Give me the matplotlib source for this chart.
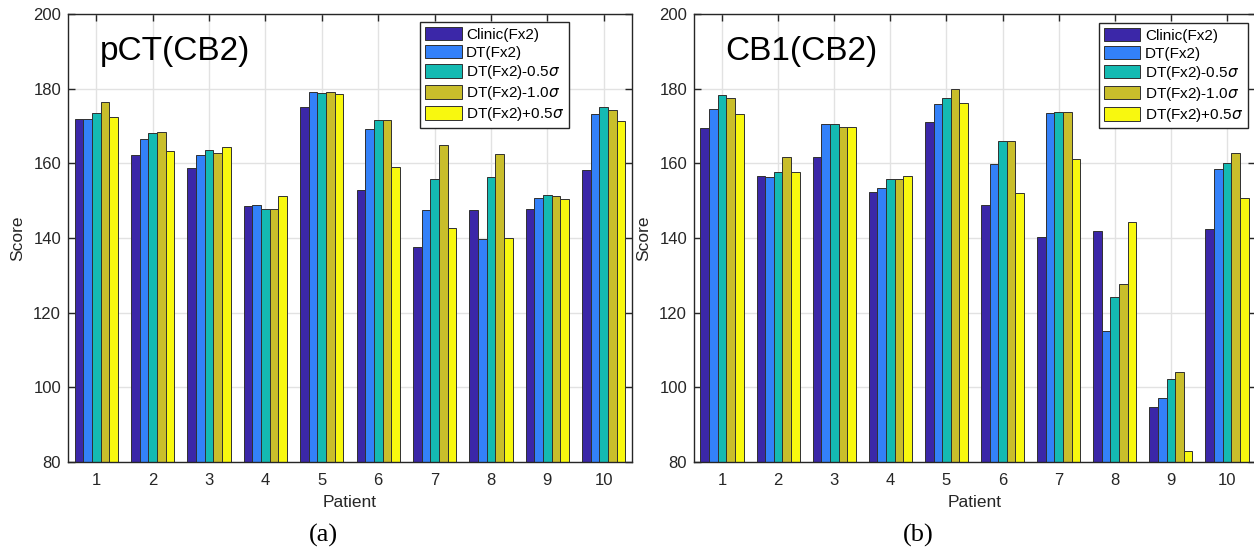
import numpy as np
import matplotlib
matplotlib.use("Agg")
import matplotlib.pyplot as plt

plt.rcParams['font.family'] = ['Liberation Sans', 'DejaVu Sans']
plt.rcParams['mathtext.fontset'] = 'dejavusans'

patients = [1, 2, 3, 4, 5, 6, 7, 8, 9, 10]
series_labels = ['Clinic(Fx2)', 'DT(Fx2)', r'DT(Fx2)-0.5$\sigma$', r'DT(Fx2)-1.0$\sigma$', r'DT(Fx2)+0.5$\sigma$']

# panel (a) pCT(CB2)
a_clinic = [171.9, 162.1, 158.8, 148.5, 175.2, 152.8, 137.6, 147.6, 147.8, 158.2]
a_dt     = [171.9, 166.4, 162.1, 148.8, 179.0, 169.1, 147.6, 139.8, 150.6, 173.3]
a_m05    = [173.4, 168.2, 163.7, 147.9, 178.8, 171.6, 155.7, 156.3, 151.6, 175.0]
a_m10    = [176.5, 168.5, 162.7, 147.9, 179.0, 171.6, 165.0, 162.5, 151.2, 174.3]
a_p05    = [172.3, 163.4, 164.5, 151.2, 178.5, 158.9, 142.7, 140.1, 150.5, 171.3]

# panel (b) CB1(CB2)
b_clinic = [169.5, 156.6, 161.6, 152.3, 171.2, 148.9, 140.3, 141.9, 94.6, 142.4]
b_dt     = [174.5, 156.3, 170.6, 153.5, 175.9, 159.7, 173.5, 115.0, 97.1, 158.4]
b_m05    = [178.3, 157.7, 170.6, 155.9, 177.4, 166.1, 173.8, 124.2, 102.1, 160.0]
b_m10    = [177.4, 161.6, 169.6, 155.9, 179.8, 166.1, 173.8, 127.6, 104.1, 162.9]
b_p05    = [173.1, 157.7, 169.6, 156.5, 176.2, 152.0, 161.2, 144.2, 83.0, 150.8]

colors = ['#3B27A8', '#3381F9', '#14BAB2', '#C9BE2B', '#F8F80F']
yticks = [80, 100, 120, 140, 160, 180, 200]

fig = plt.figure(figsize=(12.54, 5.5), dpi=100)
ax1 = fig.add_axes([68/1254, 1-462/550, 564/1254, 448/550])
ax2 = fig.add_axes([694/1254, 1-462/550, 561/1254, 448/550])

def draw(ax, data, title, legend_anchor):
    n = len(data)
    gw = n / (n + 1.5)
    bw = gw / n
    x = np.array(patients, dtype=float)
    for i, vals in enumerate(data):
        off = (i - (n - 1) / 2) * bw
        ax.bar(x + off, np.array(vals) - 80, bottom=80, width=bw, color=colors[i],
               edgecolor='#303030', linewidth=0.7, label=series_labels[i], zorder=3)
    ax.set_xlim(0.5, 10.5)
    ax.set_ylim(80, 200)
    ax.set_xticks(patients)
    ax.set_yticks(yticks)
    ax.grid(True, color='#E2E2E2', linewidth=1.0, zorder=0)
    ax.set_axisbelow(True)
    ax.tick_params(direction='in', top=True, right=True, length=5, width=1,
                   colors='#262626', labelsize=12)
    ax.tick_params(axis='x', pad=8)
    ax.tick_params(axis='y', pad=5)
    for s in ax.spines.values():
        s.set_color('#262626')
        s.set_linewidth(1.0)
        s.set_zorder(5)
    ax.set_xlabel('Patient', fontsize=12.5, color='#262626', labelpad=5)
    ax.set_ylabel('Score', fontsize=12.5, color='#262626', labelpad=6)
    ax.text(1.06, 190, title, fontsize=24, color='black', va='center', ha='left', zorder=6)
    leg = ax.legend(loc='upper right', bbox_to_anchor=legend_anchor, borderaxespad=0,
                    fontsize=11, frameon=True, fancybox=False, framealpha=1,
                    edgecolor='#262626', borderpad=0.3, handlelength=2.4,
                    handleheight=1.0, handletextpad=0.3, labelspacing=0.2)
    leg.get_frame().set_linewidth(1.0)
    leg.set_zorder(7)

draw(ax1, [a_clinic, a_dt, a_m05, a_m10, a_p05], 'pCT(CB2)', (0.888, 0.982))
draw(ax2, [b_clinic, b_dt, b_m05, b_m10, b_p05], 'CB1(CB2)', (0.987, 0.980))

fig.text(323/1254, 1-535/550, '(a)', family='Liberation Serif', fontsize=19,
         ha='center', va='center')
fig.text(918/1254, 1-535/550, '(b)', family='Liberation Serif', fontsize=19,
         ha='center', va='center')

fig.savefig('out.png', dpi=100)
